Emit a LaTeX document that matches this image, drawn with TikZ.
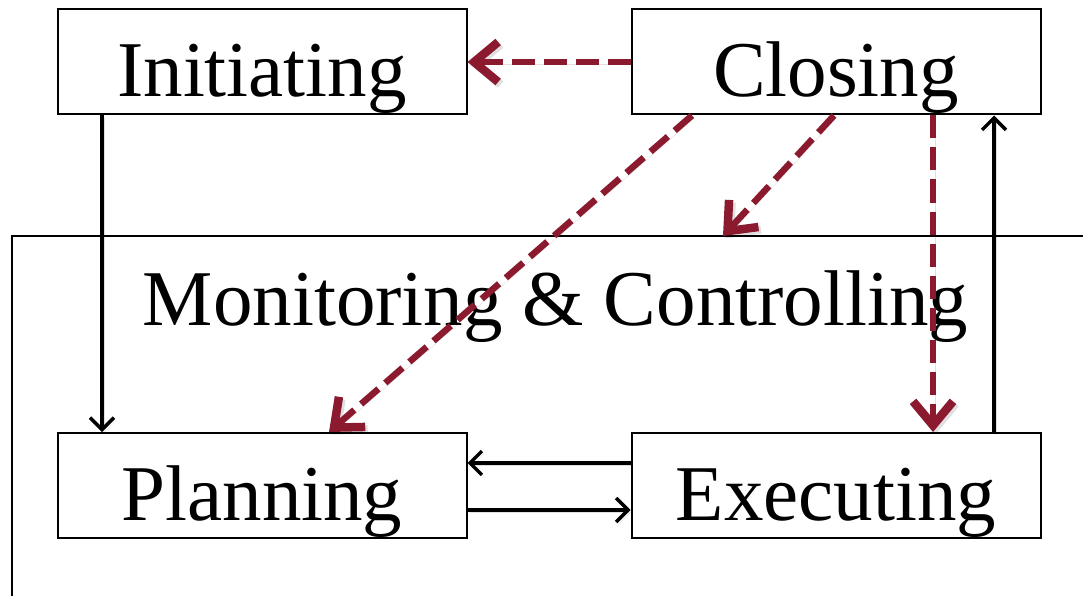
\documentclass[tikz,border=0pt]{standalone}
\usepackage{fontspec}
\setmainfont{Liberation Serif}
\usetikzlibrary{arrows.meta,calc}
\definecolor{phasered}{HTML}{8B1A2F}
\tikzset{
  phasebox/.style={draw, line width=2pt, inner sep=0pt, minimum width=409pt,
    text height=87pt, text depth=18pt, font=\fontsize{79}{80}\selectfont},
  softshadow/.style={preaction={draw=black, opacity=0.12,
    transform canvas={shift={(2.5pt,-2.5pt)}}}},
  flow/.style={softshadow, line width=3.4pt, -{Straight Barb[length=12pt,width=24pt]}},
  closeflow/.style={softshadow, draw=phasered, line width=6.5pt,
    dash pattern=on 23pt off 9pt,
    -{Straight Barb[length=24pt,width=40pt,line width=8.5pt]}}
}
\begin{document}
\begin{tikzpicture}[x=1pt,y=-1pt]
  \useasboundingbox (0,0) rectangle (1083,596);
  % Monitoring & Controlling frame (open to the right and bottom)
  \coordinate (mcright) at (1090,236);
  \coordinate (mccorner) at (12,236);
  \coordinate (mcbottom) at (12,600);
  \draw[line width=2pt] (mcright) -- (mccorner) -- (mcbottom);
  \coordinate (mctarget) at (723,236);
  \node[anchor=base, font=\fontsize{79}{80}\selectfont, inner sep=0pt] (mc) at (555.5,325)
    {Monitoring \& Controlling};
  % process groups
  \node[phasebox] (init) at (262,62) {Initiating};
  \node[phasebox] (close) at (836,62) {Closing};
  \node[phasebox] (plan) at (262,485.5) {Planning};
  \node[phasebox] (exec) at (836,485.5) {Executing};
  % solid flows
  \draw[flow] ($(init.south west)+(45.5,0)$) -- ($(plan.north west)+(45.5,0)$);
  \draw[flow] ($(exec.west)+(0,-22.5)$) -- ($(plan.east)+(0,-22.5)$);
  \draw[flow] ($(plan.east)+(0,24.5)$) -- ($(exec.west)+(0,24.5)$);
  \draw[flow] ($(exec.north west)+(363.5,0)$) -- ($(close.south west)+(363.5,0)$);
  % flows out of Closing
  \draw[closeflow] (close.west) -- (init.east);
  \draw[closeflow] ($(close.south west)+(61.5,0)$) -- ($(plan.north west)+(272.5,0)$);
  \draw[closeflow] ($(close.south west)+(203.5,0)$) -- (mctarget);
  \draw[closeflow] ($(close.south west)+(302.5,0)$) -- ($(exec.north west)+(302.5,0)$);
\end{tikzpicture}
\end{document}
